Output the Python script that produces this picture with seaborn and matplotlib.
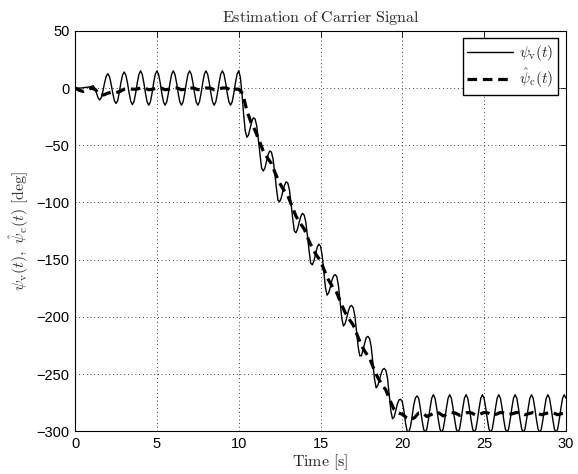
import numpy as np
import pandas as pd
import matplotlib
matplotlib.use("Agg")
import matplotlib.pyplot as plt
import seaborn as sns

# ---------------- data ----------------
# solid line psi_v(t), sampled every 0.1 s from 0 to 30 s
t_step_v = 0.1
psi_v_rows = [
    [0, 0, 0, 0, 0, 0.3, 0.5, 0.6, 0.8, 1.0],                                # 0.x
    [1.5, 2.0, 0, -4, -8.5, -10.5, -8.3, -2.6, 4.6, 10.3],                   # 1.x
    [12.5, 10.0, 3.5, -4.5, -11, -13.5, -11.1, -3.7, 4.8, 11.5],             # 2.x
    [14, 11.3, 4.4, -4.4, -11.6, -14.5, -11.7, -4.4, 4.6, 12.0],             # 3.x
    [15, 12.1, 4.6, -4.6, -12.1, -15, -12.1, -4.6, 4.6, 12.1],               # 4.x
    [15, 12.1, 4.6, -4.6, -12.1, -15, -12.1, -4.6, 4.6, 12.1],               # 5.x
    [15, 12.1, 4.6, -4.6, -12.1, -15, -12.1, -4.6, 4.6, 12.1],               # 6.x
    [15, 12.1, 4.6, -4.6, -12.1, -15, -12.1, -4.6, 4.6, 12.1],               # 7.x
    [15, 12.1, 4.6, -4.6, -12.1, -15, -12.1, -4.6, 4.6, 12.1],               # 8.x
    [15, 12.1, 4.6, -4.6, -12.1, -15, -12.1, -4.6, 4.6, 12.1],               # 9.x
    [15, 9.5, -5, -23, -37.5, -43, -41, -35, -29, -26],                      # 10.x
    [-27, -33, -45, -58, -70, -72.5, -70, -64, -58, -55],                    # 11.x
    [-56, -62, -74, -87, -98, -99.5, -96, -90, -85, -82],                    # 12.x
    [-83, -89, -101, -114, -125, -126.5, -123, -117, -112, -109.5],          # 13.x
    [-111, -117, -129, -142, -153, -154.5, -151, -145, -139, -136.5],        # 14.x
    [-138, -146, -160, -174, -181, -179, -174, -168, -164, -163],            # 15.x
    [-165, -173, -187, -201, -208, -206, -201, -195, -191, -190],            # 16.x
    [-192, -199, -212, -226, -234, -234, -229, -223, -218, -217],            # 17.x
    [-219, -226, -240, -254, -262, -260, -255, -250, -246, -245],            # 18.x
    [-247, -254, -268, -282, -289, -287.5, -282, -276, -272.5, -272],        # 19.x
    [-274, -282, -293, -300, -300.5, -296, -287, -277, -271, -269],          # 20.x
    [-271, -279.5, -289.5, -298, -301, -298, -289.5, -279.5, -271, -268],    # 21.x
    [-271, -279.5, -289.5, -298, -301, -298, -289.5, -279.5, -271, -268],    # 22.x
    [-271, -279.5, -289.5, -298, -301, -298, -289.5, -279.5, -271, -268],    # 23.x
    [-271, -279.5, -289.5, -298, -301, -298, -289.5, -279.5, -271, -268],    # 24.x
    [-271, -279.5, -289.5, -298, -301, -298, -289.5, -279.5, -271, -268],    # 25.x
    [-271, -279.5, -289.5, -298, -301, -298, -289.5, -279.5, -271, -268],    # 26.x
    [-271, -279.5, -289.5, -298, -301, -298, -289.5, -279.5, -271, -268],    # 27.x
    [-271, -279.5, -289.5, -298, -301, -298, -289.5, -279.5, -271, -268],    # 28.x
    [-271, -279.5, -289.5, -298, -301, -298, -289.5, -279.5, -271, -268],    # 29.x
    [-271],                                                                   # 30.0
]

# dashed line psi_c_hat(t), sampled every 0.25 s from 0 to 30 s
t_step_c = 0.25
psi_c_rows = [
    [0, -2, -3, -1.5],            # 0
    [0, -1.5, -6, -6],            # 1
    [-4.5, -3.5, -4, -3],         # 2
    [-1, -0.5, -1, -1],           # 3
    [0, 0, -1.5, -1],             # 4
    [0, 0, -1.5, -1],             # 5
    [0, 0, -1.5, -1],             # 6
    [0, 0, -1.5, -1],             # 7
    [0, 0, -1.5, -1],             # 8
    [0, 0, -1.5, -1],             # 9
    [-1, -5, -20, -30],           # 10
    [-37, -46, -55, -61],         # 11
    [-66, -75, -83, -89],         # 12
    [-94, -103, -112, -118],      # 13
    [-123, -132, -140, -146],     # 14
    [-151, -160, -168, -174],     # 15
    [-179, -188, -196, -202],     # 16
    [-207, -216, -225, -231],     # 17
    [-236, -245, -253, -259],     # 18
    [-264, -273, -281, -284],     # 19
    [-285, -288, -290, -288],     # 20
    [-284, -284, -287, -285.5],   # 21
    [-283.5, -284, -286.5, -285], # 22
    [-283.5, -284, -286, -285],   # 23
    [-283.5, -284, -286, -285],   # 24
    [-283.5, -284, -285.5, -285], # 25
    [-283.5, -284, -285.5, -284.5],  # 26
    [-283.5, -284, -285.5, -284.5],  # 27
    [-283.5, -284, -285.5, -284.5],  # 28
    [-283.5, -284, -285.5, -284.5],  # 29
    [-284],                       # 30
]

x_ticks = [0, 5, 10, 15, 20, 25, 30]
y_ticks = [-300, -250, -200, -150, -100, -50, 0, 50]

title_text = r"$\mathrm{Estimation\ of\ Carrier\ Signal}$"
x_label = r"$\mathrm{Time\ [s]}$"
y_label = r"$\psi_{\mathrm{v}}(t),\ \hat{\psi}_{\mathrm{c}}(t)\ [\mathrm{deg}]$"
label_v = r"$\psi_{\mathrm{v}}(t)$"
label_c = r"$\hat{\psi}_{\mathrm{c}}(t)$"

# ---------------- build tables ----------------
psi_v = [v for row in psi_v_rows for v in row]
psi_c = [v for row in psi_c_rows for v in row]
df_v = pd.DataFrame({"t": np.round(np.arange(len(psi_v)) * t_step_v, 3), "y": psi_v})
df_c = pd.DataFrame({"t": np.round(np.arange(len(psi_c)) * t_step_c, 3), "y": psi_c})

# ---------------- style ----------------
sns.set_style("white")
plt.rcParams["mathtext.fontset"] = "cm"
plt.rcParams["font.family"] = ["Liberation Sans", "DejaVu Sans"]

fig = plt.figure(figsize=(5.78, 4.74), dpi=100)
ax = fig.add_axes([0.130, 0.090, 0.849, 0.845])

sns.lineplot(data=df_v, x="t", y="y", ax=ax, color="black", linewidth=1.0,
             estimator=None, sort=False, label=label_v)
sns.lineplot(data=df_c, x="t", y="y", ax=ax, color="black", linewidth=2.3,
             estimator=None, sort=False, label=label_c)
ax.lines[1].set_dashes([3.0, 1.8])

ax.set_xlim(0, 30)
ax.set_ylim(-300, 50)
ax.set_xticks(x_ticks)
ax.set_yticks(y_ticks)
ax.tick_params(direction="in", top=True, right=True, length=4, width=0.6,
               labelsize=10.5, pad=4, colors="black")
ax.grid(True, linestyle=(0, (1, 3.5)), color="black", linewidth=0.6)
ax.set_axisbelow(True)
for s in ax.spines.values():
    s.set_color("black")
    s.set_linewidth(0.8)

ax.set_title(title_text, fontsize=11.5, pad=6)
ax.set_xlabel(x_label, fontsize=11.5, labelpad=1)
ax.set_ylabel(y_label, fontsize=11.5, labelpad=4, color="#333333")

leg = ax.legend(loc="upper right", frameon=True, fancybox=False, fontsize=11,
                handlelength=3.0, handletextpad=0.4, borderpad=0.3,
                labelspacing=0.25, borderaxespad=0.5, framealpha=1.0)
leg.get_frame().set_edgecolor("black")
leg.get_frame().set_linewidth(1.0)

fig.savefig("out.png", dpi=100)
